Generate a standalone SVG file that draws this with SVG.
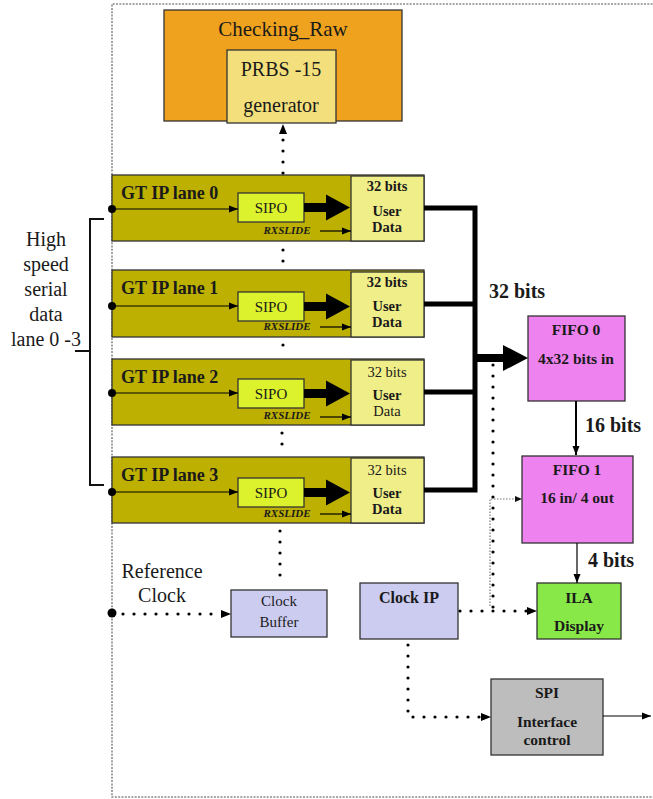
<svg xmlns="http://www.w3.org/2000/svg" width="653" height="799" viewBox="0 0 653 799">
<defs>
<style>
.t{font-family:"Liberation Serif","Times New Roman",serif;fill:#1a1a1a}
.b{font-weight:bold}
.mid{text-anchor:middle}
.lane{font-size:18px;font-weight:bold}
.ud{font-size:14.5px}
.bx{stroke:#333;stroke-width:1.3}
.dot{fill:none;stroke:#000;stroke-width:3.2;stroke-linecap:round;stroke-dasharray:0 11}
.thin{fill:none;stroke:#000;stroke-width:1.2}
.bus{fill:none;stroke:#000;stroke-width:5;stroke-linejoin:miter}
</style>
<marker id="tip" markerUnits="userSpaceOnUse" markerWidth="9" markerHeight="8" viewBox="0 0 9 8" refX="9" refY="4" orient="auto"><path d="M0,0.5 L9,4 L0,7.5 z" fill="#000"/></marker>
<marker id="base" markerUnits="userSpaceOnUse" markerWidth="10" markerHeight="9" viewBox="0 0 10 9" refX="0" refY="4.5" orient="auto"><path d="M0,0.5 L10,4.5 L0,8.5 z" fill="#000"/></marker>
<marker id="tipg" markerUnits="userSpaceOnUse" markerWidth="7" markerHeight="6" viewBox="0 0 7 6" refX="0" refY="3" orient="auto"><path d="M0,0 L7,3 L0,6 z" fill="#111"/></marker>
</defs>
<rect width="653" height="799" fill="#fff"/>
<path d="M712,4 H112 V797 H712" fill="none" stroke="#8a8a8a" stroke-width="1.6" stroke-dasharray="2 1.3"/>

<g id="checking_raw">
<rect x="164" y="10" width="238" height="111" fill="#EFA21E" class="bx"/>
<text x="283" y="36" class="t mid" font-size="21">Checking_Raw</text>
</g>
<g id="prbs">
<rect x="227" y="50" width="109" height="73" fill="#F3E07C" class="bx"/>
<text x="281" y="76" class="t mid" font-size="20">PRBS -15</text>
<text x="281" y="112" class="t mid" font-size="20">generator</text>
</g>

<g id="lane0">
<rect x="112" y="175" width="312" height="66" fill="#BDB000" stroke="#333" stroke-width="1.3"/>
<text x="121" y="199" class="t lane">GT IP lane 0</text>
<rect x="238" y="193" width="66" height="29" fill="#DCF22C" class="bx"/>
<text x="271" y="213" class="t mid" font-size="15">SIPO</text>
<text x="287" y="234" class="t mid b" font-size="11" font-style="italic">RXSLIDE</text>
<rect x="351" y="176" width="73" height="65" fill="#F0EE88" class="bx"/>
<text x="387" y="191" class="t mid b ud">32 bits</text>
<text x="387" y="216" class="t mid b ud">User</text>
<text x="387" y="232" class="t mid b ud">Data</text>
</g>
<g id="lane1">
<rect x="112" y="270" width="312" height="67" fill="#BDB000" stroke="#333" stroke-width="1.3"/>
<text x="121" y="294" class="t lane">GT IP lane 1</text>
<rect x="238" y="292" width="66" height="29" fill="#DCF22C" class="bx"/>
<text x="271" y="312" class="t mid" font-size="15">SIPO</text>
<text x="287" y="330" class="t mid b" font-size="11" font-style="italic">RXSLIDE</text>
<rect x="351" y="272" width="73" height="65" fill="#F0EE88" class="bx"/>
<text x="387" y="287" class="t mid b ud">32 bits</text>
<text x="387" y="311" class="t mid b ud">User</text>
<text x="387" y="327" class="t mid b ud">Data</text>
</g>
<g id="lane2">
<rect x="112" y="359" width="312" height="66" fill="#BDB000" stroke="#333" stroke-width="1.3"/>
<text x="121" y="383" class="t lane">GT IP lane 2</text>
<rect x="238" y="379" width="66" height="29" fill="#DCF22C" class="bx"/>
<text x="271" y="399" class="t mid" font-size="15">SIPO</text>
<text x="287" y="419" class="t mid b" font-size="11" font-style="italic">RXSLIDE</text>
<rect x="351" y="360" width="73" height="65" fill="#F0EE88" class="bx"/>
<text x="387" y="377" class="t mid ud">32 bits</text>
<text x="387" y="400" class="t mid b ud">User</text>
<text x="387" y="416" class="t mid ud">Data</text>
</g>
<g id="lane3">
<rect x="112" y="457" width="312" height="66" fill="#BDB000" stroke="#333" stroke-width="1.3"/>
<text x="121" y="481" class="t lane">GT IP lane 3</text>
<rect x="238" y="478" width="66" height="29" fill="#DCF22C" class="bx"/>
<text x="271" y="498" class="t mid" font-size="15">SIPO</text>
<text x="287" y="517" class="t mid b" font-size="11" font-style="italic">RXSLIDE</text>
<rect x="351" y="458" width="73" height="65" fill="#F0EE88" class="bx"/>
<text x="387" y="475" class="t mid ud">32 bits</text>
<text x="387" y="498" class="t mid b ud">User</text>
<text x="387" y="514" class="t mid b ud">Data</text>
</g>

<g id="serial_label">
<text class="t mid" font-size="20"><tspan x="46" y="246">High</tspan><tspan x="46" y="271">speed</tspan><tspan x="46" y="296">serial</tspan><tspan x="46" y="321">data</tspan><tspan x="46" y="346">lane 0 -3</tspan></text>
</g>
<g id="ref_clock_label">
<text class="t mid" font-size="20"><tspan x="162" y="578">Reference</tspan><tspan x="162" y="602">Clock</tspan></text>
</g>

<g id="fifo0">
<rect x="528" y="316" width="97" height="85" fill="#EE82EE" class="bx"/>
<text x="576" y="335" class="t mid b" font-size="15.5">FIFO 0</text>
<text x="576" y="364" class="t mid b" font-size="15.5">4x32 bits in</text>
</g>
<g id="fifo1">
<rect x="522" y="456" width="111" height="87" fill="#EE82EE" class="bx"/>
<text x="577" y="475" class="t mid b" font-size="15.5">FIFO 1</text>
<text x="577" y="503" class="t mid b" font-size="15.5">16 in/ 4 out</text>
</g>
<g id="ila">
<rect x="537" y="583" width="84" height="56" fill="#88E848" class="bx"/>
<text x="579" y="603" class="t mid b" font-size="15.5">ILA</text>
<text x="579" y="631" class="t mid b" font-size="15.5">Display</text>
</g>
<g id="clock_ip">
<rect x="360" y="583" width="98" height="56" fill="#CCCCF0" class="bx"/>
<text x="409" y="603" class="t mid b" font-size="16">Clock IP</text>
</g>
<g id="clock_buffer">
<rect x="231" y="590" width="96" height="47" fill="#CCCCF0" class="bx"/>
<text x="279" y="606" class="t mid" font-size="15">Clock</text>
<text x="279" y="627" class="t mid" font-size="15">Buffer</text>
</g>
<g id="spi">
<rect x="491" y="679" width="112" height="76" fill="#BDBDBD" class="bx"/>
<text x="547" y="698" class="t mid b" font-size="15.5">SPI</text>
<text x="547" y="727" class="t mid b" font-size="15.5">Interface</text>
<text x="547" y="745" class="t mid b" font-size="15.5">control</text>
</g>

<g id="connectors">
<path d="M104,219 H90 V485 H104 M75,351 H90" fill="none" stroke="#111" stroke-width="2"/>
<g fill="#000">
<circle cx="112" cy="209" r="4"/><circle cx="112" cy="306" r="4"/><circle cx="112" cy="393" r="4"/><circle cx="112" cy="492" r="4"/>
<circle cx="112" cy="613" r="4.5"/>
</g>
<path class="thin" d="M112,209 H238" marker-end="url(#tip)"/>
<path class="thin" d="M112,306 H238" marker-end="url(#tip)"/>
<path class="thin" d="M112,393 H238" marker-end="url(#tip)"/>
<path class="thin" d="M112,492 H238" marker-end="url(#tip)"/>
<path class="thin" d="M320,231 H351" marker-end="url(#tip)"/>
<path class="thin" d="M320,327 H351" marker-end="url(#tip)"/>
<path class="thin" d="M320,417 H351" marker-end="url(#tip)"/>
<path class="thin" d="M320,514 H351" marker-end="url(#tip)"/>
<polygon points="304,203 326,203 326,194.5 350,207.5 326,220.5 326,212 304,212"/>
<polygon points="304,302 326,302 326,293.5 350,306.5 326,319.5 326,311 304,311"/>
<polygon points="304,389 326,389 326,380.5 350,393.5 326,406.5 326,398 304,398"/>
<polygon points="304,488 326,488 326,479.5 350,492.5 326,505.5 326,497 304,497"/>
<path class="bus" d="M424,208 H475 V490 H424 M424,304 H475 M424,392 H475"/>
<polygon points="475,354 503,354 503,345 528,358 503,371 503,362 475,362"/>
<text x="489" y="298" class="t b" font-size="20">32 bits</text>
<path d="M576,401 V455" fill="none" stroke="#000" stroke-width="2" marker-end="url(#tip)"/>
<text x="585" y="432" class="t b" font-size="20">16 bits</text>
<path class="thin" d="M577,543 V583" marker-end="url(#tip)"/>
<text x="588" y="567" class="t b" font-size="20">4 bits</text>
<path class="dot" d="M283,173 V134" marker-end="url(#base)"/>
<path class="dot" d="M283,250 V265"/>
<path class="dot" d="M283,345 V356"/>
<path class="dot" d="M282,433 V454"/>
<path class="dot" d="M280,531 V586"/>
<path class="dot" d="M123,614 H221" marker-end="url(#base)"/>
<path class="dot" d="M493,365 V611"/>
<path class="dot" d="M460,611 H527" marker-end="url(#base)"/>
<path d="M490,606 V499 H515" fill="none" stroke="#777" stroke-width="1.2" stroke-dasharray="1.5 1.5" marker-end="url(#tipg)"/>
<path class="dot" d="M408,645 V717 H481" marker-end="url(#base)"/>
<path class="thin" d="M603,716 H651" marker-end="url(#tip)"/>
</g>
</svg>
